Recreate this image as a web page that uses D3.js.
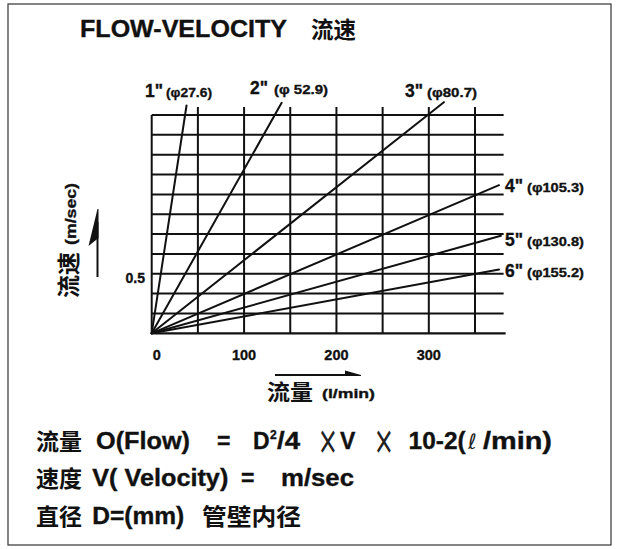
<!DOCTYPE html>
<html>
<head>
<meta charset="utf-8">
<script src="https://cdn.jsdelivr.net/npm/d3@7"></script>
<style>
  html, body { margin: 0; padding: 0; background: #fff; }
  svg { display: block; }
  .lat { font-family: "Liberation Sans", Arial, sans-serif; font-weight: 700; fill: #111; stroke: #111; stroke-width: 0.35; }
  .cjk { font-family: "Noto Sans CJK SC", "Noto Sans CJK JP", sans-serif; font-weight: 700; fill: #111; }
  .op { font-family: "DejaVu Sans", sans-serif; font-weight: 400; fill: #222; }
  .ell { font-family: "DejaVu Sans", sans-serif; font-style: italic; font-weight: 400; fill: #222; }
</style>
</head>
<body>
<script>
// Pipe sizes and their inner diameters (mm)
const pipeSizes = ['1"', '2"', '3"', '4"', '5"', '6"'];
const innerDiameters = ['27.6', ' 52.9', '80.7', '105.3', '130.8', '155.2'];
// Each pipe line runs from the origin to this end point (flow l/min, velocity m/sec)
const lineEndFlow = [37.7, 140.7, 316.3, 376, 378, 376];
const lineEndVelocity = [1.913, 1.936, 1.941, 1.244, 0.819, 0.535];

// Axis ticks and grid
const flowTicks = [0, 100, 200, 300];
const velocityTicks = [0.5];
const flowGrid = [0, 50, 100, 150, 200, 250, 300, 350];
const velocityGrid = d3.range(1, 12).map(i => i / 6);

const W = 619, H = 549;
const svg = d3.select("body").append("svg").attr("width", W).attr("height", H);

// frame
svg.append("rect").attr("x", 8).attr("y", 4).attr("width", 603).attr("height", 541)
  .attr("fill", "none").attr("stroke", "#333").attr("stroke-width", 1.2);

const x = d3.scaleLinear().domain([0, 350]).range([151.7, 475]);
const y = d3.scaleLinear().domain([0, 11 / 6]).range([333.3, 115]);
const xMax = 381;

const g = svg.append("g");

// horizontal grid lines
g.selectAll("line.h").data(velocityGrid).join("line")
  .attr("x1", x(0)).attr("x2", x(xMax))
  .attr("y1", d => y(d)).attr("y2", d => y(d))
  .attr("stroke", "#111").attr("stroke-width", 2);

// vertical grid lines (interior ones rise a little above the top line)
g.selectAll("line.v").data(flowGrid).join("line")
  .attr("x1", d => x(d)).attr("x2", d => x(d))
  .attr("y1", d => d === 0 ? y(11 / 6) : y(11 / 6) - 8)
  .attr("y2", y(0))
  .attr("stroke", "#111").attr("stroke-width", 2);

// flow axis line
g.append("line").attr("x1", x(0)).attr("x2", x(xMax) + 2)
  .attr("y1", y(0)).attr("y2", y(0)).attr("stroke", "#111").attr("stroke-width", 2.2);

// pipe lines
g.selectAll("line.pipe").data(pipeSizes).join("line")
  .attr("x1", x(0)).attr("y1", y(0))
  .attr("x2", (d, i) => x(lineEndFlow[i]))
  .attr("y2", (d, i) => y(lineEndVelocity[i]))
  .attr("stroke", "#111").attr("stroke-width", 2).attr("stroke-linecap", "round");

// tick labels
svg.selectAll("text.xt").data(flowTicks).join("text")
  .attr("class", "lat")
  .attr("x", d => d === 0 ? x(d) + 1 : x(d))
  .attr("y", 360)
  .attr("text-anchor", d => d === 0 ? "start" : "middle")
  .attr("font-size", 14.5)
  .text(d => d);

svg.selectAll("text.yt").data(velocityTicks).join("text")
  .attr("class", "lat")
  .attr("x", 145).attr("y", d => y(d) + 9.5)
  .attr("text-anchor", "end")
  .attr("font-size", 14)
  .text(d => d);

// pipe labels
const labelPos = [[145, 97], [250, 94], [405, 97], [505, 192], [505, 246], [505, 277]];
const smallPos = [[166, 212], [274, 328], [427, 477], [527, 584], [527, 584], [527, 584]];
pipeSizes.forEach((p, i) => {
  svg.append("text").attr("class", "lat")
    .attr("x", labelPos[i][0]).attr("y", labelPos[i][1])
    .attr("font-size", 17.5).text(p);
  svg.append("text").attr("class", "lat")
    .attr("x", smallPos[i][0]).attr("y", labelPos[i][1] - 0.5)
    .attr("font-size", 13.5)
    .attr("textLength", smallPos[i][1] - smallPos[i][0])
    .attr("lengthAdjust", "spacingAndGlyphs")
    .text("(\u03c6" + innerDiameters[i] + ")");
});

// title
svg.append("text").attr("class", "lat").attr("x", 80).attr("y", 37)
  .attr("font-size", 23).attr("textLength", 207).attr("lengthAdjust", "spacingAndGlyphs")
  .text("FLOW-VELOCITY");
svg.append("text").attr("class", "cjk").attr("x", 311).attr("y", 38)
  .attr("font-size", 23).attr("textLength", 45).attr("lengthAdjust", "spacingAndGlyphs")
  .text("流速");

// velocity axis title and arrow
const yl = svg.append("g").attr("transform", "translate(77,298) rotate(-90)");
yl.append("text").attr("class", "cjk").attr("x", 0).attr("y", 0)
  .attr("font-size", 23).attr("textLength", 46).attr("lengthAdjust", "spacingAndGlyphs").text("流速");
yl.append("text").attr("class", "lat").attr("x", 53).attr("y", -1)
  .attr("font-size", 14).attr("textLength", 62).attr("lengthAdjust", "spacingAndGlyphs").text("(m/sec)");

svg.append("line").attr("x1", 97.5).attr("x2", 97.5).attr("y1", 222).attr("y2", 277)
  .attr("stroke", "#111").attr("stroke-width", 2);
svg.append("path").attr("d", "M97.5,209 L88.5,246 L98.5,238 L98.5,209 Z").attr("fill", "#111");

// flow axis title and arrow
svg.append("line").attr("x1", 275).attr("x2", 350).attr("y1", 375).attr("y2", 375)
  .attr("stroke", "#111").attr("stroke-width", 2);
svg.append("path").attr("d", "M361,375 L345,370.5 L345,376 L361,376 Z").attr("fill", "#111");
svg.append("text").attr("class", "cjk").attr("x", 267).attr("y", 400)
  .attr("font-size", 22).attr("textLength", 46).attr("lengthAdjust", "spacingAndGlyphs").text("流量");
svg.append("text").attr("class", "lat").attr("x", 322).attr("y", 398)
  .attr("font-size", 13.5).attr("textLength", 53).attr("lengthAdjust", "spacingAndGlyphs").text("(l/min)");

// formula notes
function put(cls, str, x0, base, size, len, extra) {
  const t = svg.append("text").attr("class", cls).attr("x", x0).attr("y", base)
    .attr("font-size", size).text(str);
  if (len) t.attr("textLength", len).attr("lengthAdjust", "spacingAndGlyphs");
  if (extra) extra(t);
  return t;
}
// thin multiplication sign, stretched to the cap height of the formula text
function times(cx, cy) {
  svg.append("g").attr("transform", `translate(${cx},${cy}) scale(1.1,1.8)`)
    .append("text").attr("class", "op")
    .attr("x", 0).attr("y", 0)
    .attr("text-anchor", "middle").attr("dominant-baseline", "central")
    .attr("font-size", 22).text("\u00d7");
}

// line 1
put("cjk", "流量", 36, 450, 23, 46);
put("lat", "O(Flow)", 96, 449, 23, 94);
put("lat", "=", 217, 449, 23);
put("lat", "D", 253, 449, 23);
put("lat", "2", 270, 439, 12);
put("lat", "/4", 277, 449, 23, 23);
times(328, 441);
put("lat", "V", 340, 449, 23);
times(384, 441);
put("lat", "10-2(", 408.6, 449, 23, 57);
put("ell", "\u2113", 468, 449, 21);
put("lat", "/min)", 483, 449, 23, 69);

// line 2
put("cjk", "速度", 36, 487, 23, 46);
put("lat", "V( Velocity)", 92.3, 486, 23, 136);
put("lat", "=", 241, 486, 23);
put("lat", "m/sec", 281, 486, 23, 73);

// line 3
put("cjk", "直径", 36, 525, 23, 46);
put("lat", "D=(mm)", 92.3, 524, 23, 92);
put("cjk", "管壁内径", 202, 525, 23, 99);
</script>
</body>
</html>
